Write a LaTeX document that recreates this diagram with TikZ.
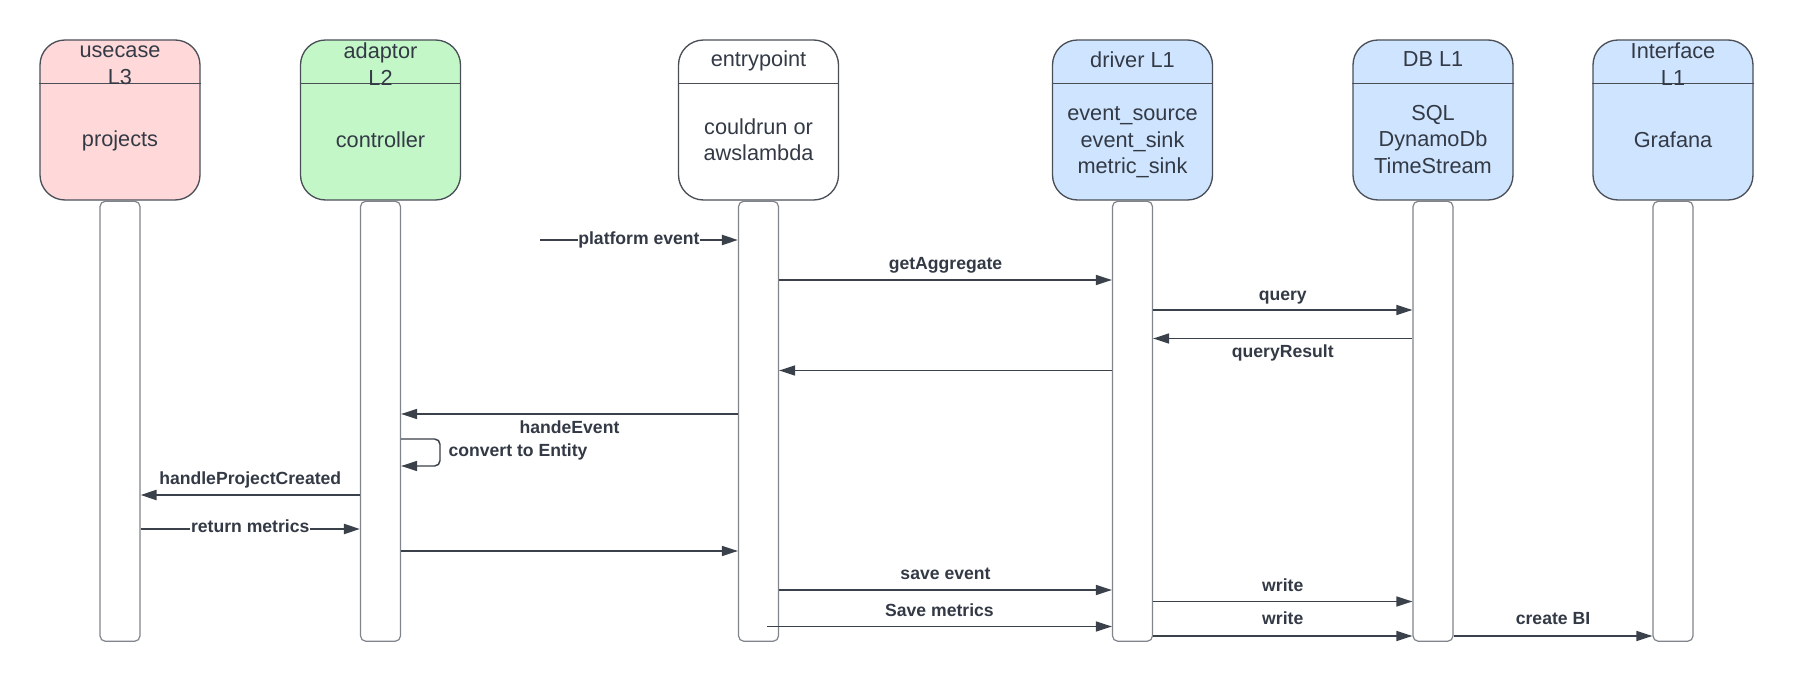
\documentclass[tikz,border=0pt]{standalone}
\usepackage{fontspec}
\setmainfont{Liberation Sans}
\usetikzlibrary{arrows.meta,calc}
\definecolor{txt}{HTML}{333A45}
\definecolor{ln}{HTML}{3A414A}
\definecolor{bord}{HTML}{4A4F57}
\definecolor{barc}{HTML}{80848B}
\definecolor{pinkf}{HTML}{FFD9D9}
\definecolor{greenf}{HTML}{C3F7C8}
\definecolor{bluef}{HTML}{CFE4FF}
\tikzset{
 hdr/.style={draw=bord, line width=1pt, rounded corners=18.75pt, minimum width=120pt, minimum height=120pt, inner sep=0pt},
 lifebar/.style={draw=barc, line width=0.9pt, fill=white, rounded corners=4pt, minimum width=30pt, minimum height=330pt, inner sep=0pt, anchor=north},
 htxt/.style={font=\fontsize{16.3pt}{20pt}\selectfont, text=txt, align=center, inner sep=0pt},
 lbl/.style={font=\fontsize{13.2pt}{16pt}\selectfont\bfseries, text=txt, inner sep=1pt, text height=9.5pt, text depth=2.8pt},
 msg/.style={draw=ln, line width=1.1pt, -{Triangle[length=12pt,width=7.5pt]}},
 msgthick/.style={msg, line width=1.8pt},
 divline/.style={draw=bord, line width=1pt},
}
\begin{document}
\begin{tikzpicture}[x=0.75pt,y=-0.75pt]
\useasboundingbox (0,0) rectangle (1793,680);
% header boxes
\node[hdr, fill=pinkf] (hUse) at (120,120) {};
\node[hdr, fill=greenf] (hAd) at (380.5,120) {};
\node[hdr, fill=white] (hEn) at (758.5,120) {};
\node[hdr, fill=bluef] (hDr) at (1132.5,120) {};
\node[hdr, fill=bluef] (hDb) at (1433,120) {};
\node[hdr, fill=bluef] (hIf) at (1673,120) {};
\foreach \b in {hUse,hAd,hEn,hDr,hDb,hIf}{
  \draw[divline] ($(\b.north west)!0.275!(\b.south west)$) -- ($(\b.north east)!0.275!(\b.south east)$);
}
% titles
\node[htxt] (tUse) at ($(hUse.north)+(0,26)$) {usecase\\L3};
\node[htxt] (tAd) at ($(hAd.north)+(0,25)$) {adaptor\\L2};
\node[htxt] (tEn) at ($(hEn.north)+(0,22)$) {entrypoint};
\node[htxt] (tDr) at ($(hDr.north)+(0,20)$) {driver L1};
\node[htxt] (tDb) at ($(hDb.north)+(0,20)$) {DB L1};
\node[htxt] (tIf) at ($(hIf.north)+(0,25)$) {Interface\\L1};
% bodies
\node[htxt] (cUse) at ($(hUse.north)+(0,102)$) {projects};
\node[htxt] (cAd) at ($(hAd.north)+(0,100)$) {controller};
\node[htxt] (cEn) at ($(hEn.north)+(0,100.5)$) {couldrun or\\awslambda};
\node[htxt] (cDr) at ($(hDr.north)+(0,103)$) {event\_source\\event\_sink\\metric\_sink};
\node[htxt] (cDb) at ($(hDb.north)+(0,100)$) {SQL\\DynamoDb\\TimeStream};
\node[htxt] (cIf) at ($(hIf.north)+(0,100)$) {Grafana};
% lifeline bars
\node[lifebar] (bUse) at (hUse.south) {};
\node[lifebar] (bAd) at (hAd.south) {};
\node[lifebar] (bEn) at (hEn.south) {};
\node[lifebar] (bDr) at (hDr.south) {};
\node[lifebar] (bDb) at (hDb.south) {};
\node[lifebar] (bIf) at (hIf.south) {};
% y levels
\coordinate (peStart) at (540,240);
\coordinate (yGA) at (0,280);
\coordinate (yQ) at (0,310);
\coordinate (yQR) at (0,338.5);
\coordinate (yRet) at (0,370.5);
\coordinate (yHE) at (0,414);
\coordinate (yL1) at (0,439);
\coordinate (loopR) at (440,466);
\coordinate (yHP) at (0,495);
\coordinate (yRM) at (0,529);
\coordinate (yAE) at (0,551);
\coordinate (ySE) at (0,590);
\coordinate (yW1) at (0,601.5);
\coordinate (smStart) at (767,626.5);
\coordinate (yW2) at (0,636);
% messages
\draw[msgthick] (peStart) -- node[lbl, fill=white, inner sep=0.5pt]{platform event} (bEn.west |- peStart);
\draw[msg] (bEn.east |- yGA) -- node[lbl, yshift=11pt]{getAggregate} (bDr.west |- yGA);
\draw[msg] (bDr.east |- yQ) -- node[lbl, yshift=10.5pt]{query} (bDb.west |- yQ);
\draw[msg] (bDb.west |- yQR) -- node[lbl, yshift=-11.2pt]{queryResult} (bDr.east |- yQR);
\draw[msg] (bDr.west |- yRet) -- (bEn.east |- yRet);
\draw[msg] (bEn.west |- yHE) -- node[lbl, yshift=-11.2pt]{handeEvent} (bAd.east |- yHE);
\draw[msg, rounded corners=4pt] (bAd.east |- yL1) -- (loopR |- yL1) -- (loopR) -- (bAd.east |- loopR);
\node[lbl, anchor=west] (lConv) at ($(loopR |- yL1)+(7,13)$) {convert to Entity};
\draw[msgthick] (bAd.west |- yHP) -- node[lbl, yshift=11pt]{handleProjectCreated} (bUse.east |- yHP);
\draw[msgthick] (bUse.east |- yRM) -- node[lbl, fill=white, inner sep=0.5pt, yshift=1pt]{return metrics} (bAd.west |- yRM);
\draw[msg] (bAd.east |- yAE) -- (bEn.west |- yAE);
\draw[msg] (bEn.east |- ySE) -- node[lbl, yshift=11pt]{save event} (bDr.west |- ySE);
\draw[msg] (smStart) -- node[lbl, yshift=11pt]{Save metrics} (bDr.west |- smStart);
\draw[msg] (bDr.east |- yW1) -- node[lbl, yshift=11pt]{write} (bDb.west |- yW1);
\draw[msg] (bDr.east |- yW2) -- node[lbl, yshift=11.8pt]{write} (bDb.west |- yW2);
\draw[msg] (bDb.east |- yW2) -- node[lbl, yshift=11.8pt]{create BI} (bIf.west |- yW2);
\end{tikzpicture}
\end{document}
